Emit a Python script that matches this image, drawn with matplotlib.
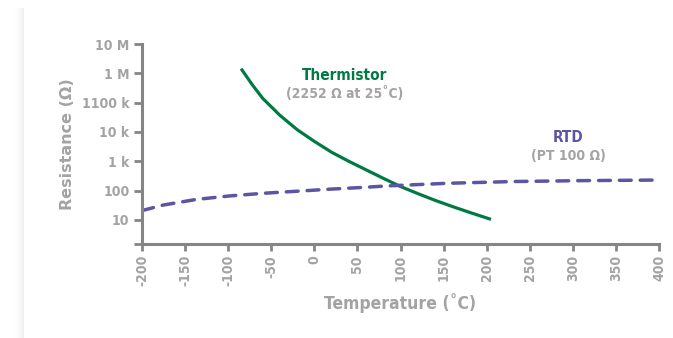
import numpy as np
import matplotlib
matplotlib.use('Agg')
import matplotlib.pyplot as plt

# data (resistance as log10 of ohms)
therm_temp = [-85, -72, -60, -40, -20, 0, 20, 40, 60, 80, 100, 120, 140, 160, 180, 205]
therm_log = [6.16, 5.61, 5.15, 4.57, 4.08, 3.68, 3.31, 3.00, 2.71, 2.42, 2.14, 1.90, 1.67, 1.46, 1.26, 1.02]
rtd_temp = [-200, -175, -137, -98, -59, -20, 18, 57, 84, 154, 231, 308, 394]
rtd_log = [1.32, 1.51, 1.70, 1.82, 1.91, 1.98, 2.05, 2.11, 2.16, 2.25, 2.31, 2.34, 2.36]
x_ticks = [-200, -150, -100, -50, 0, 50, 100, 150, 200, 250, 300, 350, 400]
y_ticks = [10, 100, 1e3, 1e4, 1e5, 1e6, 1e7]
y_labels = ['10', '100', '1 k', '10 k', '1100 k', '1 M', '10 M']

gray = '#a3a3a3'
axis_gray = '#858585'
green = '#007a45'
purple = '#5b56a3'
narrow = dict(family='DejaVu Sans', stretch='condensed', weight='bold')

fig = plt.figure(figsize=(6.73, 3.38), dpi=100)

# shadow at left edge
sh = fig.add_axes([12/673, 0, 12/673, 1 - 8/338])
grad = np.linspace(0, 1, 50)[None, :] ** 2
sh.imshow(grad, cmap='Greys', vmin=0, vmax=8, aspect='auto', extent=[0, 1, 0, 1])
sh.axis('off')

ax = fig.add_axes([142/673, 1 - 244/338, 517/673, 200/338])

ax.plot(therm_temp, 10**np.array(therm_log), color=green, lw=2.3,
        solid_capstyle='butt', solid_joinstyle='round')
ax.plot(rtd_temp, 10**np.array(rtd_log), color=purple, lw=2.5,
        dashes=(3.4, 2.6), dash_capstyle='round')

ax.set_yscale('log')
ax.set_xlim(-200, 400)
ax.set_ylim(10**0.18, 1e7)
ax.set_yticks([10**0.18] + y_ticks)
ax.set_yticklabels([''] + y_labels)
ax.minorticks_off()
ax.set_xticks(x_ticks)
ax.set_xticklabels([str(v) for v in x_ticks], rotation=90)

for s in ['top', 'right']:
    ax.spines[s].set_visible(False)
for s in ['left', 'bottom']:
    ax.spines[s].set_color(axis_gray)
    ax.spines[s].set_linewidth(2.2)
ax.tick_params(axis='y', colors=axis_gray, width=2, length=6, pad=3)
ax.tick_params(axis='x', colors=axis_gray, width=2, length=5, pad=3)
for lab in ax.get_xticklabels() + ax.get_yticklabels():
    lab.set_color(gray)
    lab.set_fontfamily('DejaVu Sans')
    lab.set_fontstretch('condensed')
    lab.set_fontweight('bold')
    lab.set_fontsize(10)

ax.set_xlabel('Temperature (˚C)', color=gray, fontsize=12.5, labelpad=5, **narrow)
ax.set_ylabel('Resistance (Ω)', color=gray, fontweight='bold', fontsize=11.5, labelpad=5)

ax.text(0.392, 0.845, 'Thermistor', transform=ax.transAxes, color=green,
        fontsize=11, ha='center', va='center', **narrow)
ax.text(0.392, 0.755, '(2252 Ω at 25˚C)', transform=ax.transAxes, color=gray,
        fontsize=10, ha='center', va='center', **narrow)
ax.text(0.824, 0.535, 'RTD', transform=ax.transAxes, color=purple,
        fontsize=11, ha='center', va='center', **narrow)
ax.text(0.824, 0.44, '(PT 100 Ω)', transform=ax.transAxes, color=gray,
        fontsize=10, ha='center', va='center', **narrow)

fig.savefig('out.png', dpi=100)
